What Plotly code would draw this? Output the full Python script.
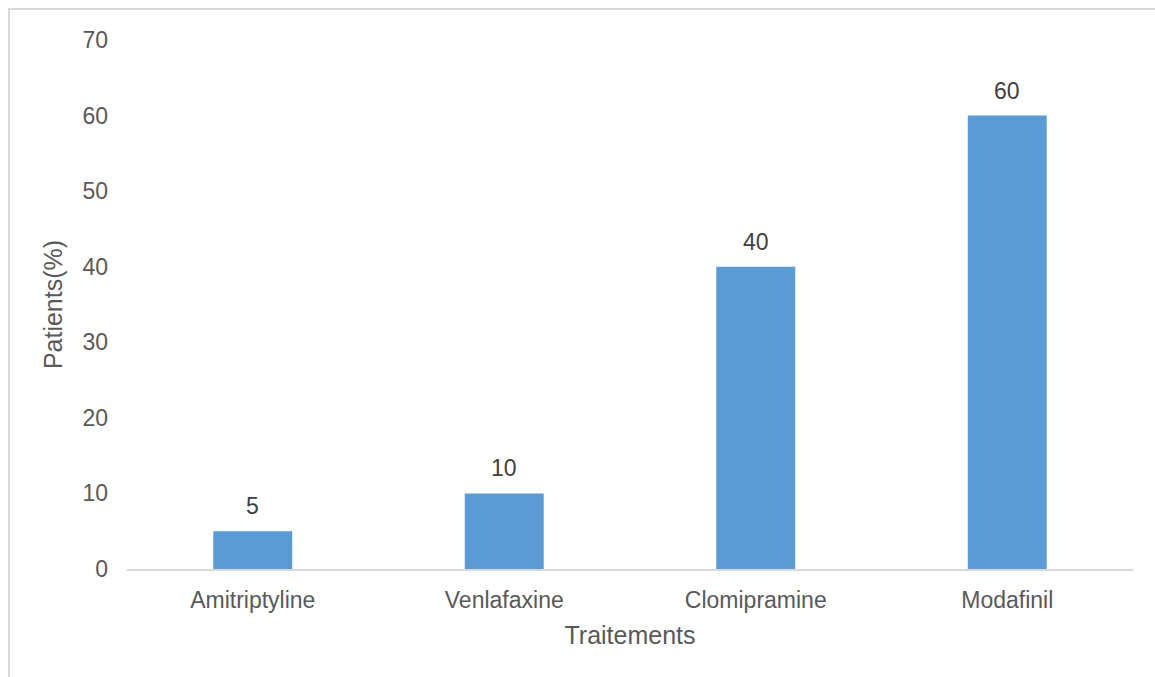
import plotly.graph_objects as go

# Treatments and share of patients (%)
traitements = ["Amitriptyline", "Venlafaxine", "Clomipramine", "Modafinil"]
patients_pct = [5, 10, 40, 60]
y_ticks = [0, 10, 20, 30, 40, 50, 60, 70]

W, H = 1155, 677
L, R, T, B = 127, 22, 40, 108
pw, ph = W - L - R, H - T - B

font_family = "Liberation Sans, Arial, sans-serif"
txt_color = "#595959"

fig = go.Figure(
    go.Bar(
        x=traitements,
        y=patients_pct,
        marker=dict(color="#5B9BD5", line=dict(width=0)),
        hoverinfo="x+y",
    )
)

# Value labels above each bar
for cat, val in zip(traitements, patients_pct):
    fig.add_annotation(
        x=cat, y=val, text=str(val), showarrow=False,
        yanchor="bottom", yshift=10,
        font=dict(family=font_family, size=23, color="#404040"),
    )

# Outer chart frame (light gray)
def px_x(p):
    return (p - L) / pw

def px_y(p):
    return (H - B - p) / ph

fig.add_shape(
    type="rect", xref="paper", yref="paper",
    x0=px_x(9), x1=px_x(W + 20), y0=px_y(H + 20), y1=px_y(9),
    line=dict(color="#d9d9d9", width=2), fillcolor="rgba(0,0,0,0)", layer="below",
)

fig.update_layout(
    width=W, height=H,
    margin=dict(l=L, r=R, t=T, b=B),
    paper_bgcolor="white", plot_bgcolor="white",
    bargap=0.686,
    showlegend=False,
    font=dict(family=font_family, color=txt_color, size=20),
    xaxis=dict(
        showline=True, linecolor="#d9d9d9", linewidth=1.5,
        showgrid=False, ticks="", zeroline=False,
        tickfont=dict(size=23, color=txt_color),
        ticklabelstandoff=10,
        title=dict(text="Traitements", font=dict(size=25, color=txt_color), standoff=14),
    ),
    yaxis=dict(
        range=[0, 70], tickvals=y_ticks,
        showline=False, showgrid=False, zeroline=False, ticks="",
        tickfont=dict(size=23, color=txt_color),
        ticklabelstandoff=18,
        title=dict(text="Patients(%)", font=dict(size=25, color=txt_color), standoff=12),
    ),
)

fig.write_html("out.html")
